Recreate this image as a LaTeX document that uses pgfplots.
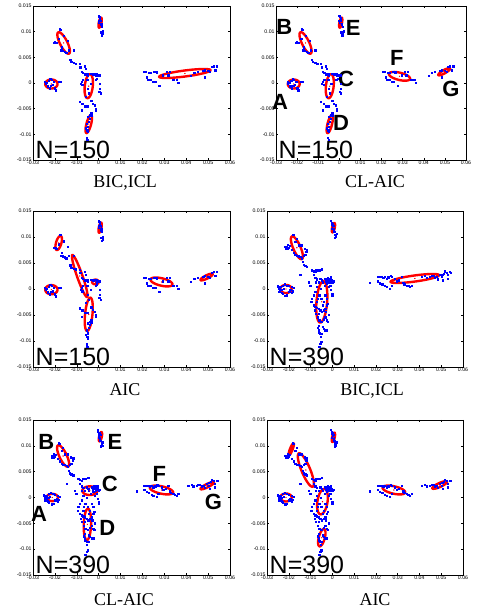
\documentclass[border=0pt]{standalone}
\usepackage{fontspec}
\setmainfont{Liberation Serif}
\newfontfamily\hel{Liberation Sans}
\usepackage{pgfplots}
\usepackage{pgfplotstable}
\pgfplotsset{compat=1.18}

\pgfplotstableread{
x y
-0.0245 0.0003
-0.0243 -0.0002
-0.0238 0.0000
-0.0233 -0.0006
-0.0228 0.0005
-0.0222 0.0008
-0.0215 0.0007
-0.0210 -0.0004
-0.0205 0.0002
-0.0200 -0.0010
-0.0195 -0.0014
-0.0180 0.0003
-0.0175 0.0002
-0.0225 -0.0010
-0.0218 -0.0005
-0.0179 0.0105
-0.0174 0.0104
-0.0206 0.0079
-0.0201 0.0080
-0.0197 0.0079
-0.0194 0.0078
-0.0171 0.0064
-0.0163 0.0063
-0.0156 0.0061
-0.0148 0.0059
-0.0136 0.0064
-0.0114 0.0064
-0.0140 0.0082
-0.0168 0.0070
-0.0181 0.0086
-0.0160 0.0092
-0.0130 0.0046
-0.0125 0.0041
-0.0114 0.0039
-0.0105 0.0038
-0.0087 0.0037
-0.0084 0.0031
-0.0064 0.0033
-0.0059 0.0028
-0.0079 0.0022
-0.0072 0.0020
-0.0064 0.0017
-0.0059 0.0018
-0.0053 0.0017
-0.0049 0.0015
-0.0034 0.0018
-0.0026 0.0017
-0.0018 0.0017
-0.0014 0.0015
-0.0011 0.0017
-0.0003 0.0015
0.0005 0.0015
-0.0008 0.0009
-0.0015 0.0006
-0.0072 0.0006
-0.0079 0.0002
-0.0082 -0.0001
-0.0075 -0.0004
0.0005 -0.0001
0.0005 -0.0011
0.0002 -0.0017
0.0008 -0.0020
-0.0087 -0.0037
-0.0075 -0.0041
-0.0064 -0.0045
-0.0053 -0.0045
-0.0034 -0.0035
-0.0026 -0.0040
-0.0018 -0.0043
-0.0014 -0.0050
-0.0014 -0.0053
-0.0079 -0.0053
-0.0034 -0.0059
-0.0041 -0.0063
-0.0049 -0.0011
-0.0044 -0.0020
-0.0053 0.0006
-0.0038 -0.0001
-0.0059 -0.0027
-0.0049 -0.0066
-0.0041 -0.0069
-0.0034 -0.0064
-0.0056 -0.0079
-0.0059 -0.0088
-0.0053 -0.0092
-0.0049 -0.0095
-0.0056 -0.0106
-0.0052 -0.0111
-0.0049 -0.0085
-0.0044 -0.0075
0.0000 0.0131
0.0003 0.0129
0.0005 0.0126
0.0008 0.0121
0.0012 0.0116
0.0015 0.0110
0.0009 0.0099
0.0020 0.0101
0.0017 0.0096
0.0014 0.0093
-0.0001 0.0122
0.0002 0.0118
0.0011 0.0113
0.0206 0.0022
0.0213 0.0022
0.0230 0.0020
0.0238 0.0020
0.0252 0.0022
0.0259 0.0022
0.0264 0.0021
0.0218 0.0011
0.0226 0.0007
0.0236 0.0006
0.0249 0.0002
0.0259 0.0002
0.0276 -0.0005
0.0294 0.0015
0.0317 0.0015
0.0340 0.0006
0.0355 0.0006
0.0363 0.0001
0.0310 0.0022
0.0325 0.0022
0.0422 0.0014
0.0437 0.0020
0.0453 0.0022
0.0477 0.0024
0.0485 0.0025
0.0500 0.0024
0.0516 0.0032
0.0524 0.0033
0.0540 0.0033
0.0532 0.0025
0.0485 0.0011
0.0508 0.0022
}\dataS

\pgfplotstableread{
x y
-0.0251 0.0006
-0.0247 0.0004
-0.0242 0.0001
-0.0239 -0.0002
-0.0231 -0.0001
-0.0228 0.0007
-0.0219 0.0009
-0.0208 0.0007
-0.0200 0.0006
-0.0186 0.0004
-0.0178 0.0002
-0.0181 -0.0004
-0.0186 -0.0007
-0.0208 -0.0012
-0.0216 -0.0013
-0.0234 -0.0007
-0.0247 0.0000
-0.0244 -0.0005
-0.0224 0.0001
-0.0198 -0.0005
-0.0250 0.0004
-0.0237 0.0004
-0.0193 -0.0002
-0.0228 -0.0009
-0.0181 0.0105
-0.0178 0.0104
-0.0216 0.0081
-0.0212 0.0079
-0.0208 0.0081
-0.0204 0.0078
-0.0201 0.0080
-0.0196 0.0083
-0.0186 0.0075
-0.0178 0.0070
-0.0170 0.0066
-0.0163 0.0064
-0.0155 0.0063
-0.0147 0.0062
-0.0140 0.0059
-0.0132 0.0064
-0.0125 0.0066
-0.0117 0.0076
-0.0120 0.0072
-0.0128 0.0078
-0.0143 0.0084
-0.0170 0.0091
-0.0163 0.0097
-0.0155 0.0084
-0.0213 0.0077
-0.0205 0.0085
-0.0137 0.0052
-0.0132 0.0047
-0.0125 0.0045
-0.0117 0.0043
-0.0147 0.0027
-0.0094 0.0036
-0.0087 0.0034
-0.0079 0.0033
-0.0074 0.0036
-0.0061 0.0036
-0.0048 0.0038
-0.0087 0.0027
-0.0079 0.0022
-0.0071 0.0019
-0.0109 0.0013
-0.0102 0.0007
-0.0076 0.0013
-0.0033 0.0020
-0.0025 0.0019
-0.0021 0.0022
-0.0018 0.0017
-0.0013 0.0020
-0.0010 0.0015
-0.0006 0.0019
-0.0003 0.0017
0.0000 0.0013
0.0005 0.0015
-0.0010 0.0007
-0.0018 0.0004
-0.0025 0.0011
-0.0006 -0.0002
0.0000 -0.0009
0.0000 -0.0012
-0.0056 0.0020
-0.0048 0.0017
-0.0064 0.0013
-0.0071 0.0004
-0.0079 -0.0005
-0.0086 -0.0012
-0.0094 -0.0018
-0.0097 -0.0025
-0.0086 -0.0031
-0.0079 -0.0034
-0.0071 -0.0036
-0.0064 -0.0038
-0.0056 -0.0041
-0.0048 -0.0044
-0.0041 -0.0041
-0.0033 -0.0038
-0.0025 -0.0031
-0.0021 -0.0028
-0.0041 -0.0025
-0.0051 -0.0018
-0.0061 -0.0012
-0.0033 -0.0012
-0.0025 -0.0018
-0.0071 -0.0025
-0.0082 -0.0041
-0.0076 -0.0047
-0.0067 -0.0054
-0.0061 -0.0060
-0.0051 -0.0063
-0.0041 -0.0058
-0.0033 -0.0054
-0.0025 -0.0060
-0.0021 -0.0063
-0.0018 -0.0050
-0.0015 0.0013
-0.0007 0.0023
-0.0028 0.0015
-0.0036 0.0007
-0.0045 0.0013
-0.0054 0.0000
-0.0067 -0.0018
-0.0045 -0.0031
-0.0030 -0.0044
-0.0064 -0.0047
-0.0064 -0.0070
-0.0067 -0.0075
-0.0064 -0.0079
-0.0061 -0.0084
-0.0056 -0.0086
-0.0048 -0.0086
-0.0041 -0.0076
-0.0051 -0.0102
-0.0056 -0.0105
-0.0061 -0.0111
-0.0033 -0.0079
-0.0025 -0.0079
-0.0045 -0.0073
-0.0054 -0.0092
-0.0006 0.0131
-0.0003 0.0128
0.0000 0.0123
0.0002 0.0120
0.0005 0.0116
0.0010 0.0110
0.0013 0.0105
0.0016 0.0100
0.0010 0.0099
0.0020 0.0107
0.0000 0.0116
0.0005 0.0111
0.0002 0.0126
0.0007 0.0122
0.0173 0.0012
0.0208 0.0023
0.0215 0.0023
0.0226 0.0023
0.0234 0.0022
0.0241 0.0023
0.0257 0.0023
0.0267 0.0025
0.0272 0.0023
0.0208 0.0015
0.0219 0.0011
0.0229 0.0009
0.0241 0.0006
0.0249 0.0004
0.0264 0.0001
0.0272 0.0007
0.0295 0.0015
0.0306 0.0017
0.0330 0.0009
0.0341 0.0007
0.0348 0.0006
0.0356 0.0004
0.0363 0.0007
0.0409 0.0023
0.0432 0.0022
0.0447 0.0023
0.0455 0.0025
0.0463 0.0025
0.0470 0.0022
0.0478 0.0023
0.0501 0.0023
0.0511 0.0030
0.0516 0.0034
0.0524 0.0032
0.0531 0.0027
0.0539 0.0033
0.0543 0.0032
0.0531 0.0020
0.0508 0.0017
0.0485 0.0019
0.0318 0.0023
0.0325 0.0012
0.0287 0.0020
0.0493 0.0027
0.0504 0.0028
0.0425 0.0025
0.0249 0.0020
0.0260 0.0022
}\dataL

\newcommand{\gauss}[6]{%
  \addplot[red, line width=2.4pt, domain=0:360, samples=73, variable=\t]
    ({#1+(#3)*cos(\t)+(#5)*sin(\t)}, {#2+(#4)*cos(\t)+(#6)*sin(\t)});
  \addplot[red, only marks, mark=*, mark size=0.4pt] coordinates {(#1,#2)};
}

\pgfplotsset{
  panel/.style={
    scale only axis, anchor=south west, clip=false,
    scaled ticks=false,
    xmin=-0.03, xmax=0.06, ymin=-0.015, ymax=0.015,
    xtick={-0.03,-0.02,-0.01,0,0.01,0.02,0.03,0.04,0.05,0.06},
    xticklabels={-0.03,-0.02,-0.01,0,0.01,0.02,0.03,0.04,0.05,0.06},
    ytick={-0.015,-0.01,-0.005,0,0.005,0.01,0.015},
    yticklabels={-0.015,-0.01,-0.005,0,0.005,0.01,0.015},
    tick label style={font=\hel\fontsize{5.2}{6}\selectfont},
    xticklabel style={inner sep=1pt},
    yticklabel style={inner sep=1.2pt},
    major tick length=2pt, tick align=inside,
    axis line style={line width=0.8pt},
    every tick/.style={black, line width=0.5pt},
  },
  pts/.style={only marks, mark=square*, mark size=0.65pt, blue},
}

\newcommand{\nlab}[1]{\node[anchor=base west, inner sep=0pt, text depth=0pt, font=\hel\fontsize{25}{25}\selectfont] at ([xshift=2.5pt,yshift=1.8pt]rel axis cs:0,0) {#1};}
\newcommand{\glab}[3]{\node[font=\hel\bfseries\fontsize{22}{22}\selectfont, inner sep=0pt] at (axis cs:#1,#2) {#3};}

\begin{document}
\begin{tikzpicture}
\useasboundingbox (0,0) rectangle (491pt,612pt);

% Top left: BIC,ICL N=150
\begin{axis}[panel, at={(33pt,452pt)}, width=197pt, height=154pt]
\addplot[pts] table {\dataS};
\gauss{-0.0216}{-0.0002}{0.0028}{0}{0}{0.00087}
\gauss{-0.0160}{0.0078}{0.00244}{-0.00207}{0.0015}{0.00032}
\gauss{-0.00453}{-0.00062}{0.00061}{0.00233}{0.00182}{-0.00008}
\gauss{-0.00453}{-0.0080}{0.00107}{0.00175}{0.00103}{-0.00011}
\gauss{0.00066}{0.01176}{0.00046}{0.00097}{0.0006}{-0.00005}
\gauss{0.0394}{0.00185}{0.01175}{0.00065}{0.00018}{-0.00058}
\nlab{N=150}
\end{axis}

% Top right: CL-AIC N=150
\begin{axis}[panel, at={(276pt,452pt)}, width=190pt, height=154pt]
\addplot[pts] table {\dataS};
\gauss{-0.0216}{-0.0002}{0.0028}{0}{0}{0.00087}
\gauss{-0.0160}{0.0078}{0.00244}{-0.00207}{0.0015}{0.00032}
\gauss{-0.00453}{-0.00062}{0.00061}{0.00233}{0.00182}{-0.00008}
\gauss{-0.00453}{-0.0080}{0.00107}{0.00175}{0.00103}{-0.00011}
\gauss{0.00066}{0.01176}{0.00046}{0.00097}{0.0006}{-0.00005}
\gauss{0.0285}{0.0013}{0.0050}{-0.0005}{-0.00042}{-0.00069}
\gauss{0.0497}{0.0022}{0.0028}{0.00065}{0.00038}{-0.00028}
\nlab{N=150}
\glab{-0.0261}{0.0110}{B}
\glab{0.0066}{0.0107}{E}
\glab{0.0032}{0.0007}{C}
\glab{0.0272}{0.0048}{F}
\glab{0.0529}{-0.0012}{G}
\glab{-0.0281}{-0.0036}{A}
\glab{0.0008}{-0.0078}{D}
\end{axis}

% Middle left: AIC N=150
\begin{axis}[panel, at={(33pt,245pt)}, width=197pt, height=156pt]
\addplot[pts] table {\dataS};
\gauss{-0.0216}{-0.00013}{0.0028}{0}{0}{0.00087}
\gauss{-0.01826}{0.00885}{0.00092}{0.00135}{0.00117}{-0.00014}
\gauss{-0.00865}{0.0025}{0.00336}{-0.00404}{0.00116}{0.00017}
\gauss{-0.00148}{0.00135}{0.0015}{0}{0}{0.00045}
\gauss{-0.00453}{-0.00487}{0.00076}{0.0032}{0.00168}{-0.00007}
\gauss{0.00066}{0.0118}{0.00046}{0.00097}{0.0006}{-0.00005}
\gauss{0.0287}{0.00135}{0.0050}{-0.0005}{-0.00042}{-0.00069}
\gauss{0.0493}{0.0023}{0.00275}{0.00058}{0.00038}{-0.00028}
\nlab{N=150}
\end{axis}

% Middle right: BIC,ICL N=390
\begin{axis}[panel, at={(267pt,245pt)}, width=196pt, height=156pt]
\addplot[pts] table {\dataL};
\gauss{-0.0213}{0.0000}{0.0026}{0}{0}{0.00077}
\gauss{-0.01628}{0.00793}{0.00229}{-0.00218}{0.00153}{0.00028}
\gauss{-0.00484}{-0.00247}{0.00076}{0.00398}{0.00244}{-0.00008}
\gauss{0.0005}{0.01179}{0.00046}{0.0009}{0.0006}{-0.00005}
\gauss{0.03788}{0.00202}{0.01113}{0.00064}{0.00018}{-0.00058}
\nlab{N=390}
\end{axis}

% Bottom left: CL-AIC N=390
\begin{axis}[panel, at={(33pt,37pt)}, width=197pt, height=155pt]
\addplot[pts] table {\dataL};
\gauss{-0.0212}{0.0000}{0.0026}{0}{0}{0.0007}
\gauss{-0.01625}{0.00803}{0.00229}{-0.00206}{0.00153}{0.00028}
\gauss{-0.00407}{0.00132}{0.0034}{0}{0}{0.00084}
\gauss{-0.00514}{-0.0052}{0.00023}{0.00303}{0.00168}{0}
\gauss{0.00081}{0.01177}{0.00046}{0.0009}{0.0006}{-0.00005}
\gauss{0.0287}{0.00145}{0.0053}{-0.0005}{-0.00042}{-0.00069}
\gauss{0.0496}{0.00229}{0.00305}{0.00065}{0.00038}{-0.00028}
\nlab{N=390}
\glab{-0.0239}{0.0108}{B}
\glab{0.0074}{0.0108}{E}
\glab{0.0051}{0.0026}{C}
\glab{0.0277}{0.0045}{F}
\glab{0.0524}{-0.0009}{G}
\glab{-0.0272}{-0.0031}{A}
\glab{0.0039}{-0.0058}{D}
\end{axis}

% Bottom right: AIC N=390
\begin{axis}[panel, at={(267pt,37pt)}, width=196pt, height=155pt]
\addplot[pts] table {\dataL};
\gauss{-0.0213}{0.0000}{0.0026}{0}{0}{0.00077}
\gauss{-0.01887}{0.00932}{0.00107}{0.00116}{0.00057}{-0.00009}
\gauss{-0.01216}{0.00532}{0.0032}{-0.00323}{0.00183}{0.00032}
\gauss{-0.00453}{-0.0008}{0.00092}{0.00245}{0.00229}{-0.00015}
\gauss{-0.00484}{-0.00777}{0.00107}{0.00168}{0.00133}{-0.00015}
\gauss{0.0005}{0.01165}{0.00046}{0.0009}{0.0006}{-0.00005}
\gauss{0.02826}{0.00145}{0.0052}{-0.0005}{-0.00042}{-0.00069}
\gauss{0.0493}{0.00242}{0.00336}{0.00065}{0.00038}{-0.00035}
\nlab{N=390}
\end{axis}

\begin{scope}[every node/.style={anchor=base, inner sep=0pt, font=\fontsize{18}{18}\selectfont}]
\node at (125pt,424.5pt) {BIC,ICL};
\node at (375pt,424.5pt) {CL-AIC};
\node at (125pt,216pt) {AIC};
\node at (372pt,216pt) {BIC,ICL};
\node at (124pt,6.4pt) {CL-AIC};
\node at (375pt,6.4pt) {AIC};
\end{scope}
\end{tikzpicture}
\end{document}
